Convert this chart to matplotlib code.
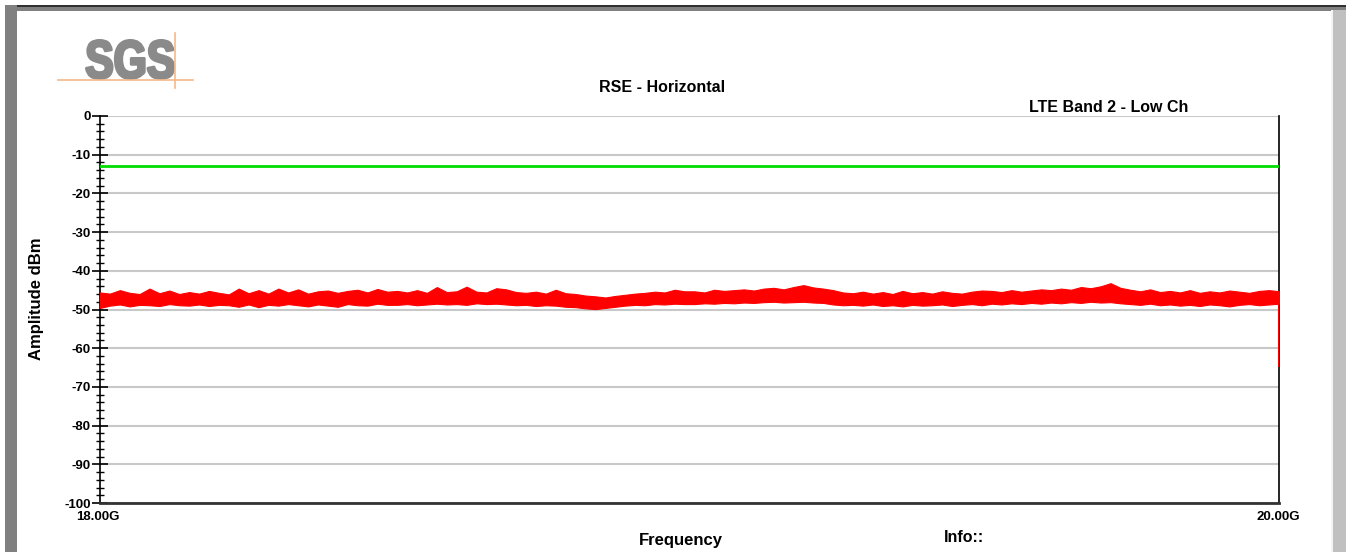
import numpy as np
import matplotlib.pyplot as plt
from matplotlib.patches import Rectangle, PathPatch
from matplotlib.lines import Line2D
from matplotlib.textpath import TextPath
from matplotlib.font_manager import FontProperties
from matplotlib.transforms import Affine2D, IdentityTransform
from matplotlib.ticker import MultipleLocator

W, H = 1346, 552

# Data
f_start, f_stop = 18.0, 20.0  # GHz
limit_db = -13.0

trace_hi = [-45.6, -45.9, -45.0, -45.7, -46.0, -44.6, -45.8, -45.1, -46.0, -45.5,
            -45.9, -45.2, -45.7, -46.1, -44.6, -45.8, -45.0, -45.9, -44.6, -45.6,
            -44.8, -45.9, -45.3, -45.1, -45.7, -45.2, -44.9, -45.6, -44.7, -45.4,
            -45.2, -45.6, -45.0, -45.7, -44.2, -45.5, -45.3, -44.1, -45.4, -45.6,
            -44.5, -44.8, -45.5, -45.7, -45.4, -45.9, -44.9, -45.8, -46.0, -46.4,
            -46.6, -46.9, -46.5, -46.2, -45.9, -45.7, -45.4, -45.6, -44.9, -45.3,
            -45.3, -45.6, -44.9, -45.2, -45.0, -44.8, -45.1, -44.6, -44.4, -44.8,
            -44.2, -43.7, -44.3, -44.6, -45.0, -45.6, -45.8, -45.4, -45.9, -45.5,
            -46.0, -45.2, -45.8, -45.5, -45.9, -45.3, -45.7, -45.9, -45.4, -45.1,
            -45.2, -45.5, -45.0, -45.4, -45.1, -44.8, -45.0, -44.6, -44.9, -44.2,
            -44.5, -44.0, -43.2, -44.4, -44.9, -45.3, -44.8, -45.5, -45.2, -45.6,
            -45.0, -45.7, -45.3, -45.6, -45.1, -45.4, -45.7, -45.2, -45.0, -45.3]
trace_lo = [-49.6, -49.0, -48.7, -49.2, -48.8, -48.9, -49.1, -48.6, -48.9, -49.0,
            -48.7, -49.1, -48.8, -48.9, -49.3, -48.7, -49.4, -48.8, -49.0, -48.6,
            -48.9, -49.2, -48.7, -49.0, -49.3, -48.6, -48.9, -49.0, -48.5, -48.8,
            -48.8, -48.6, -48.9, -48.7, -48.5, -48.7, -48.6, -48.8, -48.4, -48.6,
            -48.5, -48.7, -48.9, -48.8, -49.1, -48.9, -49.0, -49.3, -49.4, -49.7,
            -49.9, -49.6, -49.3, -49.0, -48.8, -48.9, -48.6, -48.7, -48.5, -48.6,
            -48.6, -48.4, -48.5, -48.3, -48.4, -48.2, -48.3, -48.1, -48.0, -48.2,
            -48.1, -48.0, -48.2, -48.3, -48.7, -48.9, -48.8, -49.0, -48.7, -49.1,
            -48.9, -49.2, -48.8, -49.0, -48.9, -48.7, -49.1, -48.8, -48.6, -48.9,
            -48.5, -48.7, -48.4, -48.6, -48.3, -48.5, -48.2, -48.4, -48.1, -48.3,
            -48.0, -48.2, -48.1, -48.4, -48.6, -48.8, -48.5, -48.9, -48.7, -49.0,
            -48.8, -49.1, -48.7, -48.9, -49.2, -48.8, -48.6, -48.9, -48.7, -48.5]
end_drop = [-46.5, -64.5]  # last sweep point falls off

freq = np.linspace(f_start, f_stop, len(trace_hi))

plt.rcParams['font.family'] = ['Liberation Sans', 'DejaVu Sans']
plt.rcParams['font.weight'] = 'bold'
plt.rcParams['axes.unicode_minus'] = False

fig = plt.figure(figsize=(W / 100, H / 100), dpi=100)


def px(x0, y0, w, h):
    # pixel box (from top-left) -> figure fraction rect
    return (x0 / W, 1 - (y0 + h) / H), w / W, h / H


# window frame
for (x0, y0, w, h), c in [((5, 5, 1341, 6), '#808080'),
                          ((5, 5, 1341, 1.5), '#303030'),
                          ((5, 5, 12, 547), '#808080'),
                          ((1333, 10, 13, 542), '#c0c0c0'),
                          ((1331, 10, 2, 542), '#f4f4f4')]:
    xy, ww, hh = px(x0, y0, w, h)
    fig.patches.append(Rectangle(xy, ww, hh, transform=fig.transFigure,
                                 facecolor=c, edgecolor='none', zorder=0))

# SGS logo, squeezed into its box (x 85-175, cap top y 40, baseline y 80)
tp = TextPath((0, 0), 'SGS', size=100,
              prop=FontProperties(family='Liberation Sans', weight='bold'))
bb = tp.get_extents()
sx = 87 / bb.width
sy = 38 / bb.height
logo_tf = Affine2D().translate(-bb.x0, -bb.y0).scale(sx, sy).translate(86.5, H - 78.5)
logo = PathPatch(logo_tf.transform_path(tp), facecolor='#8a8a8a',
                 edgecolor='#8a8a8a', lw=2.2, joinstyle='round',
                 transform=IdentityTransform())
fig.add_artist(logo)
fig.add_artist(Line2D([58 / W, 193 / W], [1 - 80 / H, 1 - 80 / H],
                      color='#f5b88a', lw=1.2))
fig.add_artist(Line2D([175 / W, 175 / W], [1 - 33 / H, 1 - 88 / H],
                      color='#f5b88a', lw=1.2))

ax = fig.add_axes([100 / W, 1 - 503 / H, 1179 / W, 387 / H])
ax.fill_between(freq, trace_lo, trace_hi, color='#ff0000', lw=0.8,
                edgecolor='#ff0000', zorder=3)
ax.plot([f_stop, f_stop], end_drop, color='#ff0000', lw=1.5, zorder=3)
ax.axhline(limit_db, color='#00dd00', lw=2, zorder=4)

ax.set_xlim(f_start, f_stop)
ax.set_ylim(-100, 0)
ax.yaxis.set_major_locator(MultipleLocator(10))
ax.yaxis.set_minor_locator(MultipleLocator(2))
ax.yaxis.grid(True, color='#c8c8c8', lw=1.5)
ax.set_axisbelow(True)
ax.tick_params(axis='y', which='major', direction='inout', length=11, width=1.2,
               labelsize=9.5, pad=1)
ax.tick_params(axis='y', which='minor', direction='inout', length=6, width=1)
ax.set_xticks([])
for lab in ax.get_yticklabels():
    lab.set_fontweight('bold')

ax.spines['top'].set_visible(False)
ax.spines['left'].set_linewidth(1.2)
ax.spines['right'].set_linewidth(1.2)
ax.spines['bottom'].set_linewidth(2)
ax.spines['bottom'].set_color('#333333')

fig.text(98 / W, 1 - 517 / H, '18.00G', fontsize=9.5, ha='center', va='center')
fig.text(1278 / W, 1 - 517 / H, '20.00G', fontsize=9.5, ha='center', va='center')
fig.text(662 / W, 1 - 88 / H, 'RSE - Horizontal', fontsize=11.5, ha='center', va='center')
fig.text(1188 / W, 1 - 107 / H, 'LTE Band 2 - Low Ch', fontsize=11.5, ha='right', va='center')
fig.text(36 / W, 1 - 299 / H, 'Amplitude dBm', fontsize=12, rotation=90,
         ha='center', va='center')
fig.text(681 / W, 1 - 541 / H, 'Frequency', fontsize=12, ha='center', va='center')
fig.text(944 / W, 1 - 537 / H, 'Info::', fontsize=11.5, ha='left', va='center')

fig.savefig('out.png', dpi=100)
